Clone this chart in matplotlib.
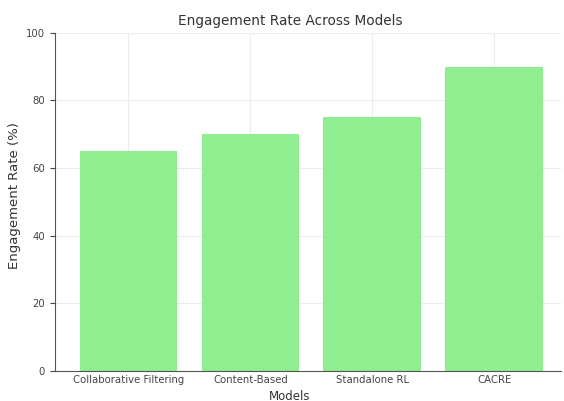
import matplotlib
matplotlib.use("Agg")
import matplotlib.pyplot as plt

models = ["Collaborative Filtering", "Content-Based", "Standalone RL", "CACRE"]
engagement = [65, 70, 75, 90]

fig = plt.figure(figsize=(5.64, 4.01), dpi=100)
ax = fig.add_axes([0.098, 0.075, 0.897, 0.843])
x = range(len(models))
ax.bar(x, engagement, color="lightgreen", width=0.8, zorder=2)
ax.set_xticks(list(x))
ax.set_xticklabels(models, fontsize=7.3, color="#444444")
ax.set_ylim(0, 100)
ax.set_xlim(-0.6, 3.55)
ax.tick_params(axis="y", labelsize=7.3, colors="#444444", pad=4)
ax.tick_params(axis="x", length=0, pad=3)
ax.set_title("Engagement Rate Across Models", fontsize=9.8, color="#333333", pad=6, x=0.464)
ax.set_xlabel("Models", fontsize=8.5, color="#333333", labelpad=2)
ax.xaxis.set_label_coords(0.464, -0.055)
ax.set_ylabel("Engagement Rate (%)", fontsize=9.5, color="#333333")
ax.yaxis.set_label_coords(-0.068, 0.52)
ax.grid(True, linestyle="-", color="#ececec", linewidth=0.8, zorder=0)
ax.spines["top"].set_visible(False)
ax.spines["right"].set_visible(False)
ax.spines["left"].set_color("#555555")
ax.spines["bottom"].set_color("#555555")
fig.savefig("out.png", dpi=100)
